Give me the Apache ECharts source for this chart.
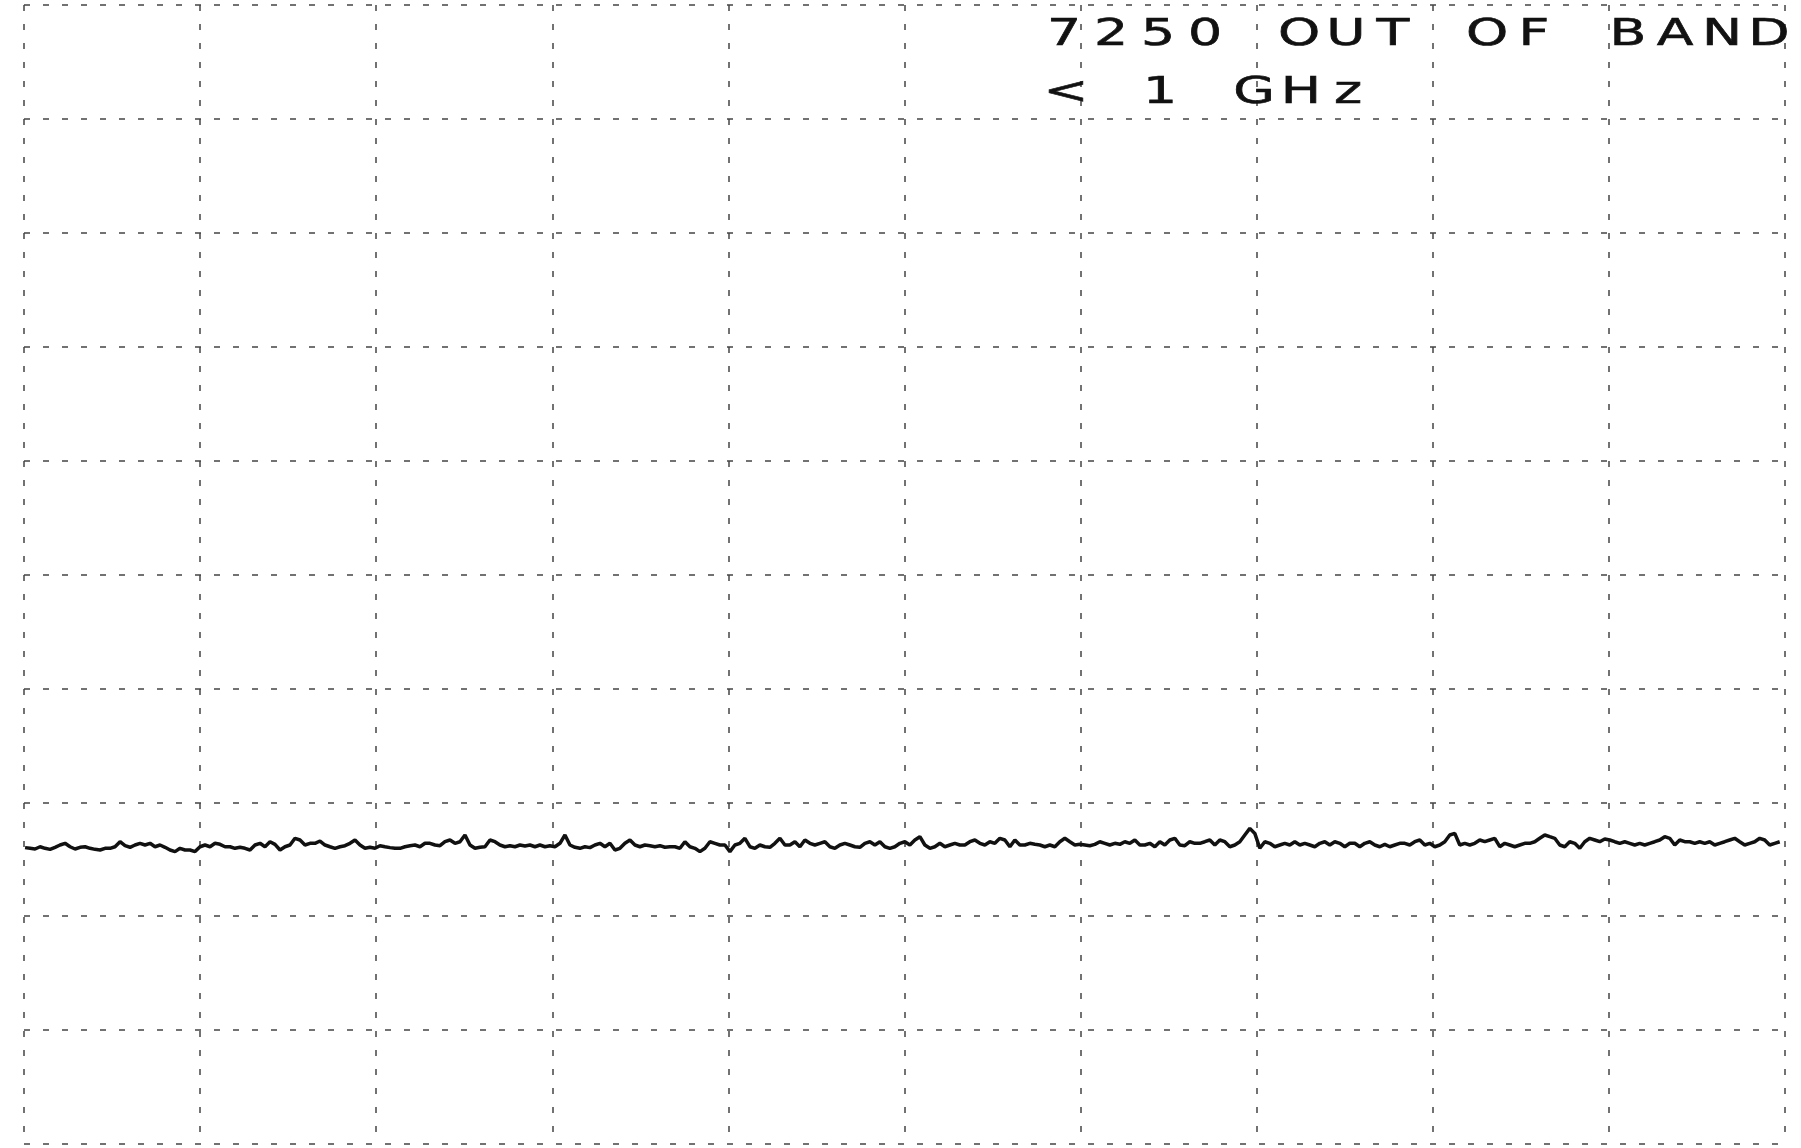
<!DOCTYPE html>
<html>
<head>
<meta charset="utf-8">
<script src="https://cdn.jsdelivr.net/npm/echarts@6/dist/echarts.min.js"></script>
<style>
  html, body { margin: 0; padding: 0; background: #fff; }
  #chart { width: 1801px; height: 1148px; }
</style>
</head>
<body>
<div id="chart"></div>
<script>
// ---- Data ----
const annotationLine1 = "7250 OUT OF BAND";
const annotationLine2 = "< 1 GHz";

// sweep span (MHz) and reference level / scale (dBm, 10 dB/div)
const sweepStartMHz = 0.6;
const sweepStopMHz = 997;
const refLevel = 0;
const bottomLevel = -100;
const xDivision = 100;
const yDivision = 10;

// trace levels (dBm), uniformly spaced sweep points, left to right
const traceSeg1 = [-73.98,-74.04,-74.10,-73.90,-74.04,-74.13,-73.95,-73.75,-73.60,-73.90,-74.10,-73.95,-73.90,-74.04,-74.13,-74.19,-74.04,-74.04,-73.90,-73.46,-73.81,-73.95,-73.75,-73.60,-73.75,-73.60,-73.90,-73.75,-73.95,-74.19,-74.33,-74.04,-74.19,-74.19,-74.33,-73.90,-73.75,-73.90,-73.60,-73.69,-73.90,-73.90,-74.04,-73.95,-74.04,-74.19,-73.75,-73.60,-73.90,-73.46,-73.69,-74.19,-73.90,-73.75,-73.16,-73.31,-73.75,-73.60];
const traceSeg2 = [-73.60,-73.40,-73.75,-73.90,-74.04,-73.90,-73.81,-73.60,-73.31,-73.75,-74.04,-73.95,-74.04,-73.81,-73.90,-73.98,-74.04,-74.04,-73.90,-73.81,-73.75,-73.90,-73.60,-73.60,-73.75,-73.81,-73.46,-73.31,-73.60,-73.46,-72.87,-73.75,-74.04,-73.95,-73.90,-73.31,-73.46,-73.75,-73.90,-73.81,-73.90,-73.75,-73.84,-73.75,-73.90,-73.75,-73.90,-73.81,-73.90,-73.60,-72.87,-73.75,-73.95,-74.04,-73.90,-73.98,-73.75,-73.60,-73.90];
const traceSeg3 = [-73.60,-74.19,-74.04,-73.60,-73.31,-73.75,-73.90,-73.75,-73.81,-73.90,-73.81,-73.95,-73.90,-73.90,-74.04,-73.46,-73.90,-74.04,-74.33,-74.04,-73.46,-73.60,-73.75,-73.75,-74.33,-73.75,-73.60,-73.16,-73.90,-74.04,-73.75,-73.90,-73.95,-73.60,-73.16,-73.75,-73.75,-73.46,-73.90,-73.31,-73.60,-73.75,-73.60,-73.46,-73.90,-74.04,-73.75,-73.60,-73.75,-73.90,-73.95,-73.60,-73.46,-73.75,-73.46,-73.90,-74.04,-73.90];
const traceSeg4 = [-73.60,-73.46,-73.75,-73.31,-73.02,-73.75,-74.04,-73.90,-73.60,-73.90,-73.75,-73.60,-73.75,-73.75,-73.46,-73.31,-73.60,-73.75,-73.46,-73.60,-73.16,-73.31,-73.90,-73.31,-73.75,-73.75,-73.60,-73.69,-73.75,-73.90,-73.75,-73.90,-73.46,-73.16,-73.46,-73.75,-73.69,-73.75,-73.81,-73.69,-73.46,-73.60,-73.75,-73.60,-73.69,-73.46,-73.60,-73.31,-73.75,-73.75,-73.60,-73.90,-73.46,-73.75,-73.31,-73.16,-73.75,-73.81];
const traceSeg5 = [-73.46,-73.60,-73.60,-73.46,-73.31,-73.75,-73.31,-73.46,-73.90,-73.75,-73.46,-72.87,-72.29,-72.73,-74.04,-73.46,-73.60,-73.90,-73.75,-73.60,-73.75,-73.46,-73.75,-73.60,-73.75,-73.90,-73.60,-73.46,-73.75,-73.46,-73.60,-73.90,-73.60,-73.60,-73.90,-73.60,-73.46,-73.75,-73.90,-73.69,-73.90,-73.75,-73.60,-73.60,-73.75,-73.46,-73.31,-73.75,-73.60,-73.90,-73.75,-73.46,-72.87,-72.73,-73.75,-73.60,-73.75,-73.60];
const traceSeg6 = [-73.31,-73.46,-73.31,-73.16,-73.90,-73.60,-73.75,-73.90,-73.75,-73.60,-73.60,-73.46,-73.16,-72.87,-73.02,-73.16,-73.75,-73.90,-73.46,-73.60,-74.04,-73.46,-73.16,-73.31,-73.46,-73.22,-73.31,-73.46,-73.60,-73.46,-73.60,-73.75,-73.60,-73.75,-73.60,-73.46,-73.31,-73.02,-73.16,-73.75,-73.31,-73.46,-73.46,-73.60,-73.46,-73.60,-73.46,-73.75,-73.60,-73.46,-73.31,-73.16,-73.46,-73.75,-73.60,-73.46,-73.16,-73.31,-73.75,-73.60,-73.46];

const traceLevels = [].concat(traceSeg1, traceSeg2, traceSeg3, traceSeg4, traceSeg5, traceSeg6);

// sweep points -> [frequency, level]
const nPts = traceLevels.length;
const traceData = traceLevels.map((v, i) => [
  sweepStartMHz + i * (sweepStopMHz - sweepStartMHz) / (nPts - 1), v
]);

// ---- Chart ----
const chart = echarts.init(document.getElementById('chart'), null, { renderer: 'canvas' });

const gridLine = { show: true, lineStyle: { color: '#444', width: 1.5, type: [6, 13] } };

function charGraphics(text, x0, pitch, y) {
  const out = [];
  for (let i = 0; i < text.length; i++) {
    const ch = text[i];
    if (ch === ' ') continue;
    out.push({
      type: 'text',
      x: x0 + i * pitch,
      y: y,
      scaleX: 1.45,
      z: 100,
      style: {
        text: ch,
        font: '37px "DejaVu Sans"',
        fill: '#111',
        stroke: '#111',
        lineWidth: 0.6,
        align: 'center',
        verticalAlign: 'middle'
      }
    });
  }
  return out;
}

const option = {
  backgroundColor: '#ffffff',
  animation: false,
  grid: { left: 24, top: 5, width: 1761, height: 1139, containLabel: false },
  xAxis: {
    type: 'value',
    min: 0, max: 1000, interval: xDivision,
    axisLine: { show: false }, axisTick: { show: false }, axisLabel: { show: false },
    splitLine: gridLine
  },
  yAxis: {
    type: 'value',
    min: bottomLevel, max: refLevel, interval: yDivision,
    axisLine: { show: false }, axisTick: { show: false }, axisLabel: { show: false },
    splitLine: gridLine
  },
  graphic: [].concat(
    charGraphics(annotationLine1, 1064, 47, 35),
    charGraphics(annotationLine2, 1066, 47, 93)
  ),
  series: [{
    type: 'line',
    data: traceData,
    showSymbol: false,
    smooth: false,
    lineStyle: { color: '#111', width: 3.5 },
    z: 10
  }]
};
chart.setOption(option);
</script>
</body>
</html>
